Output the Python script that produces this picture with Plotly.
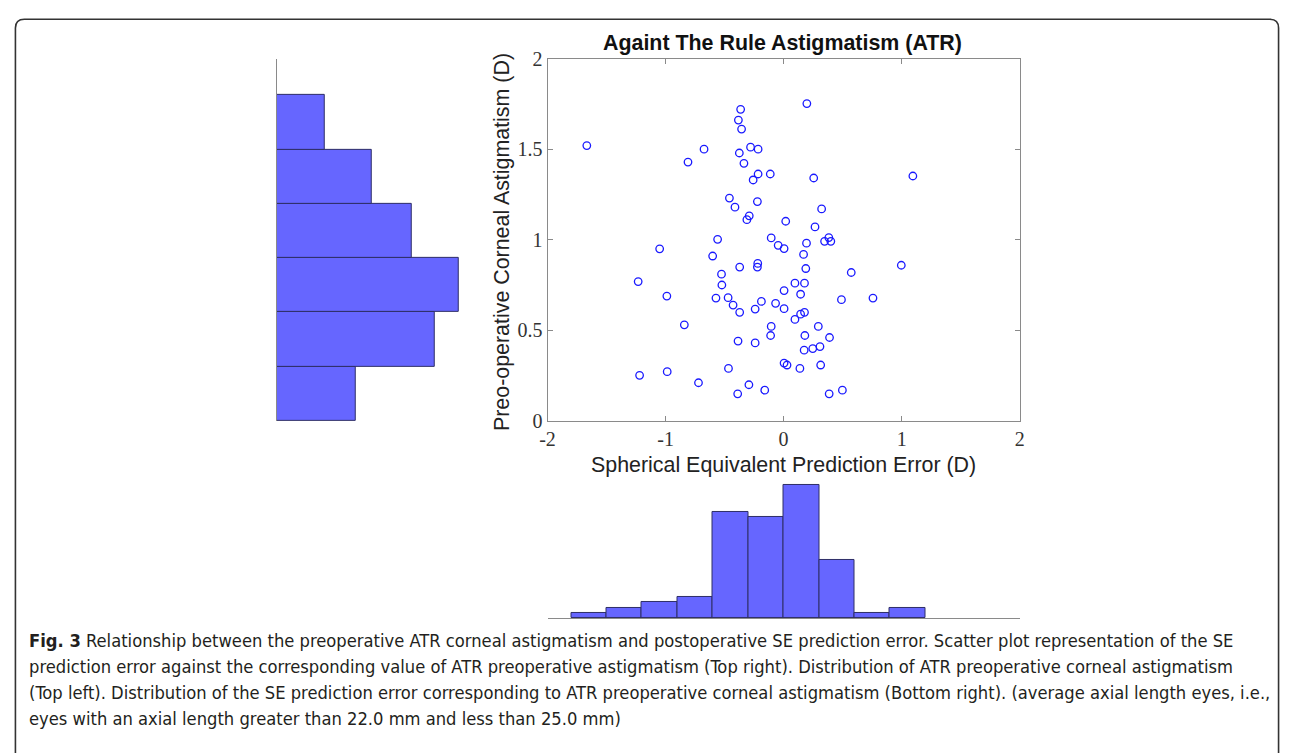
import plotly.graph_objects as go

# Reference canvas size used to convert measured pixel positions into paper fractions
W, H = 1290, 753

# ---------------- data ----------------
se_error = [-1.667, -0.674, -0.81, -0.364, -0.383, -0.356, -0.28, -0.216, -0.375, -0.336,
            -0.216, -0.113, -0.258, -0.459, -0.222, -0.412, -0.291, -0.311, 0.018, -0.559,
            -0.105, -0.046, 0.197, 0.255, 1.095, 0.322, 0.266, 0.383, 0.347, 0.40,
            0.194, 0.004, 0.169, 0.188, 0.573, 0.997, 0.096, 0.177, 0.004, 0.144,
            0.49, 0.757, 0.004, 0.144, 0.177, 0.096, 0.294, 0.18, 0.389, 0.174,
            0.247, 0.308, 0.004, 0.029, 0.138, 0.314, 0.386, 0.498, -1.05, -0.601,
            -0.372, -0.219, -0.222, -0.526, -1.232, -0.523, -0.989, -0.573, -0.47, -0.428,
            -0.188, -0.068, -0.372, -0.241, -0.841, -0.105, -0.11, -0.386, -0.241, -1.22,
            -0.986, -0.467, -0.721, -0.294, -0.389, -0.16]
astigmatism = [1.521, 1.501, 1.43, 1.721, 1.662, 1.612, 1.512, 1.501, 1.48, 1.423,
               1.364, 1.364, 1.331, 1.231, 1.212, 1.181, 1.133, 1.112, 1.103, 1.003,
               1.011, 0.97, 1.753, 1.342, 1.353, 1.171, 1.072, 1.013, 0.992, 0.992,
               0.982, 0.952, 0.92, 0.842, 0.82, 0.86, 0.761, 0.761, 0.72, 0.70,
               0.67, 0.679, 0.62, 0.59, 0.60, 0.561, 0.522, 0.472, 0.461, 0.391,
               0.40, 0.411, 0.32, 0.309, 0.29, 0.309, 0.15, 0.17, 0.951, 0.911,
               0.85, 0.87, 0.85, 0.811, 0.77, 0.751, 0.69, 0.679, 0.681, 0.64,
               0.66, 0.65, 0.60, 0.618, 0.531, 0.522, 0.472, 0.441, 0.431, 0.252,
               0.272, 0.29, 0.211, 0.20, 0.15, 0.17]

astig_bin_edges = [0.0, 0.3, 0.6, 0.9, 1.2, 1.5, 1.8]
astig_counts = [10, 20, 23, 17, 12, 6]

se_bin_edges = [-1.8, -1.5, -1.2, -0.9, -0.6, -0.3, 0.0, 0.3, 0.6, 0.9, 1.2]
se_counts = [1, 2, 3, 4, 20, 19, 25, 11, 1, 2]

x_ticks = [-2, -1, 0, 1, 2]
x_tick_labels = ["-2", "-1", "0", "1", "2"]
y_ticks = [0, 0.5, 1, 1.5, 2]
y_tick_labels = ["0", "0.5", "1", "1.5", "2"]

title_text = "Againt The Rule Astigmatism (ATR)"
xlabel = "Spherical Equivalent Prediction Error (D)"
ylabel = "Preo-operative Corneal Astigmatism (D)"
caption_lines = [
    "<b>Fig. 3</b> Relationship between the preoperative ATR corneal astigmatism and postoperative SE prediction error. Scatter plot representation of the SE",
    "prediction error against the corresponding value of ATR preoperative astigmatism (Top right). Distribution of ATR preoperative corneal astigmatism",
    "(Top left). Distribution of the SE prediction error corresponding to ATR preoperative corneal astigmatism (Bottom right). (average axial length eyes, i.e.,",
    "eyes with an axial length greater than 22.0 mm and less than 25.0 mm)",
]

# ---------------- helpers ----------------
def px(x):
    return x / W

def py(y):
    return 1 - y / H

astig_centers = [(a + b) / 2 for a, b in zip(astig_bin_edges[:-1], astig_bin_edges[1:])]
astig_widths = [b - a for a, b in zip(astig_bin_edges[:-1], astig_bin_edges[1:])]
se_centers = [(a + b) / 2 for a, b in zip(se_bin_edges[:-1], se_bin_edges[1:])]
se_widths = [b - a for a, b in zip(se_bin_edges[:-1], se_bin_edges[1:])]

AX = "#8a8a8a"
BAR_FILL = "#6666FF"
BAR_LINE = "#2e2e66"
SERIF = "Liberation Serif, DejaVu Serif, serif"
SANS = "Liberation Sans, Arial, Helvetica, sans-serif"

fig = go.Figure()

fig.add_trace(go.Scatter(
    x=se_error, y=astigmatism, mode="markers",
    marker=dict(symbol="circle-open", size=7.5, color="#1a1aff", line=dict(width=1.3)),
    xaxis="x", yaxis="y", showlegend=False))

fig.add_trace(go.Bar(
    x=astig_counts, y=astig_centers, width=astig_widths, orientation="h",
    marker=dict(color=BAR_FILL, line=dict(color=BAR_LINE, width=1)),
    xaxis="x2", yaxis="y2", showlegend=False))

fig.add_trace(go.Bar(
    x=se_centers, y=se_counts, width=se_widths,
    marker=dict(color=BAR_FILL, line=dict(color=BAR_LINE, width=1)),
    xaxis="x3", yaxis="y3", showlegend=False))

sc_x0, sc_x1 = 545, 1022
sc_y0, sc_y1 = 422.3, 49.3

hist_left_x0 = 271.5
hist_left_x1 = 480
left_px_per_count = 8.0

hist_bot_y0 = 625.7
bot_px_per_count = 5.5
hist_bot_top = 480

fig.update_layout(
    autosize=True,
    margin=dict(l=0, r=0, t=0, b=0, pad=0),
    paper_bgcolor="white", plot_bgcolor="white",
    bargap=0,
    xaxis=dict(domain=[px(sc_x0), px(sc_x1)], range=[-2, 2], anchor="y",
               tickmode="array", tickvals=x_ticks, ticktext=x_tick_labels,
               ticks="inside", ticklen=5, tickcolor=AX, showline=True, linecolor=AX,
               linewidth=1, mirror="ticks", showgrid=False, zeroline=False,
               tickfont=dict(family=SERIF, size=20, color="#333333")),
    yaxis=dict(domain=[py(sc_y0), py(sc_y1)], range=[0, 2], anchor="x",
               tickmode="array", tickvals=y_ticks, ticktext=y_tick_labels,
               ticks="inside", ticklen=5, tickcolor=AX, showline=True, linecolor=AX,
               linewidth=1, mirror="ticks", showgrid=False, zeroline=False,
               tickfont=dict(family=SERIF, size=20, color="#333333")),
    xaxis2=dict(domain=[px(hist_left_x0), px(hist_left_x1)],
                range=[0, (hist_left_x1 - hist_left_x0) / left_px_per_count],
                anchor="y2", visible=False),
    yaxis2=dict(domain=[py(sc_y0), py(sc_y1)], range=[0, 2], anchor="x2",
                showline=True, linecolor=AX, linewidth=1, showticklabels=False,
                ticks="", showgrid=False, zeroline=False),
    xaxis3=dict(domain=[px(sc_x0), px(sc_x1)], range=[-2, 2], anchor="y3",
                showline=True, linecolor=AX, linewidth=1, showticklabels=False,
                ticks="", showgrid=False, zeroline=False),
    yaxis3=dict(domain=[py(hist_bot_y0), py(hist_bot_top)],
                range=[0, (hist_bot_y0 - hist_bot_top) / bot_px_per_count],
                anchor="x3", visible=False),
)

annotations = [
    dict(text=f"<b>{title_text}</b>", x=px(782.5), y=py(32.5), xref="paper", yref="paper",
         xanchor="center", yanchor="middle", showarrow=False,
         font=dict(family=SANS, size=21.4, color="#111111")),
    dict(text=xlabel, x=px(783.5), y=py(468), xref="paper", yref="paper",
         xanchor="center", yanchor="middle", showarrow=False,
         font=dict(family=SANS, size=21.4, color="#222222")),
    dict(text=ylabel, x=px(499), y=py(238), xref="paper", yref="paper",
         xanchor="center", yanchor="middle", showarrow=False, textangle=-90,
         font=dict(family=SANS, size=21.4, color="#222222")),
]
cap_font = "Liberation Sans Narrow, DejaVu Sans Condensed, Open Sans, sans-serif"
for i, line in enumerate(caption_lines):
    annotations.append(dict(text=line, x=px(19), y=py(648 + 27 * i), xref="paper", yref="paper",
                            xanchor="left", yanchor="middle", showarrow=False,
                            font=dict(family=cap_font, size=18.2, color="#231f20")))
fig.update_layout(annotations=annotations)

bx0, bx1, by0, by1, r = 7.5, 1283.5, 8.5, 770, 9
path = (f"M {px(bx0)},{py(by1)} L {px(bx0)},{py(by0 + r)} "
        f"Q {px(bx0)},{py(by0)} {px(bx0 + r)},{py(by0)} "
        f"L {px(bx1 - r)},{py(by0)} "
        f"Q {px(bx1)},{py(by0)} {px(bx1)},{py(by0 + r)} "
        f"L {px(bx1)},{py(by1)}")
fig.add_shape(type="path", path=path, xref="paper", yref="paper",
              line=dict(color="#333333", width=1.6))

fig.write_html(
    "out.html",
    config={"displayModeBar": False, "responsive": True},
    default_width="100vw",
    default_height="100vh",
    post_script=("document.documentElement.style.margin='0';"
                 "document.body.style.margin='0';document.body.style.padding='0';"
                 "document.documentElement.style.overflow='hidden';"
                 "document.body.style.overflow='hidden';"),
)
